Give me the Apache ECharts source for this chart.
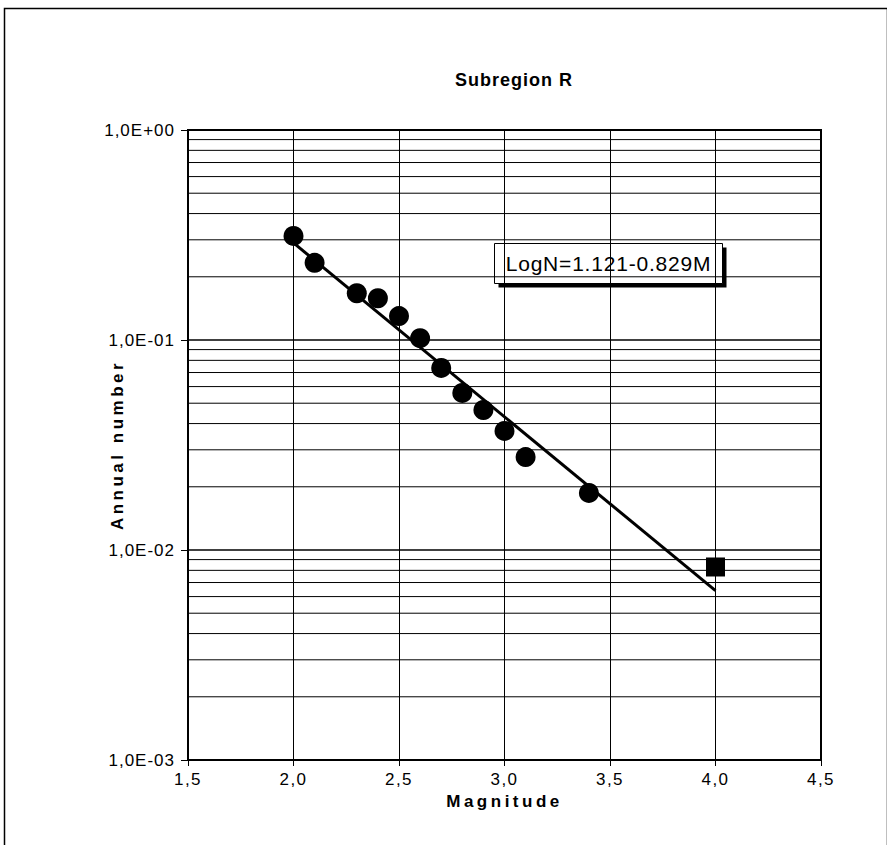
<!DOCTYPE html>
<html>
<head>
<meta charset="utf-8">
<script src="https://cdn.jsdelivr.net/npm/echarts@6/dist/echarts.min.js"></script>
<style>
  html, body { margin: 0; padding: 0; background: #fff; }
  #chart { width: 887px; height: 845px; }
</style>
</head>
<body>
<div id="chart"></div>
<script>
// observed points (magnitude, annual number)
var magnitudes = [2.0, 2.1, 2.3, 2.4, 2.5, 2.6, 2.7, 2.8, 2.9, 3.0, 3.1, 3.4]
var annualNumbers = [0.313, 0.233, 0.167, 0.158, 0.130, 0.102, 0.0736, 0.056, 0.0464, 0.0369, 0.0277, 0.0187]
// extrapolated point
var extraMag = [4.0]
var extraNum = [0.0083]
// fitted line ends
var fitMag = [2.0, 4.0]
var fitNum = [0.29, 0.0064]
// minor grid lines on the log axis
var minorLines = [
  0.002, 0.003, 0.004, 0.005, 0.006, 0.007, 0.008, 0.009,
  0.02, 0.03, 0.04, 0.05, 0.06, 0.07, 0.08, 0.09,
  0.2, 0.3, 0.4, 0.5, 0.6, 0.7, 0.8, 0.9
]
var xRange = [1.5, 4.5]
var fitLabel = 'LogN=1.121-0.829M'

var font = 'Liberation Sans, Arial, sans-serif'

function pair(xs, ys) {
  return xs.map(function (x, i) { return [x, ys[i]] })
}

function expLabel(v) {
  var e = Math.round(Math.log10(v))
  var m = v / Math.pow(10, e)
  var s = e < 0 ? '-' : '+'
  var a = Math.abs(e)
  return m.toFixed(1).replace('.', ',') + 'E' + s + (a < 10 ? '0' + a : a)
}

// thin horizontal lines for 2..9 of each decade
var minorSeries = minorLines.map(function (v) {
  return {
    type: 'line',
    data: [[xRange[0], v], [xRange[1], v]],
    symbol: 'none',
    silent: true,
    lineStyle: { color: '#000', width: 1 },
    z: 1
  }
})

var chart = echarts.init(document.getElementById('chart'), null, { renderer: 'svg' })
chart.setOption({
  animation: false,
  title: {
    text: 'Subregion R',
    left: 509,
    textAlign: 'center',
    top: 66,
    textStyle: {
      color: '#000',
      fontFamily: font,
      fontWeight: 'bold',
      fontSize: 18
    }
  },
  grid: {
    left: 188,
    top: 130,
    right: 66,
    bottom: 85,
    show: true,
    borderColor: '#000',
    borderWidth: 2,
    backgroundColor: '#fff'
  },
  xAxis: {
    type: 'value',
    min: xRange[0],
    max: xRange[1],
    interval: 0.5,
    name: 'Magnitude',
    nameLocation: 'middle',
    nameGap: 33,
    nameMoveOverlap: false,
    nameTextStyle: {
      color: '#000',
      fontFamily: font,
      fontWeight: 'bold',
      fontSize: 17
    },
    axisLine: { lineStyle: { color: '#000', width: 2 } },
    axisTick: { length: 6, lineStyle: { color: '#000' } },
    axisLabel: {
      color: '#000',
      fontFamily: font,
      fontSize: 17,
      margin: 11,
      formatter: function (v) { return v.toFixed(1).replace('.', ',') }
    },
    splitLine: { lineStyle: { color: '#000', width: 1 } }
  },
  yAxis: {
    type: 'log',
    logBase: 10,
    min: 0.001,
    max: 1,
    name: 'Annual number',
    nameLocation: 'middle',
    nameGap: 62,
    nameMoveOverlap: false,
    nameTextStyle: {
      color: '#000',
      fontFamily: font,
      fontWeight: 'bold',
      fontSize: 17
    },
    axisLine: { lineStyle: { color: '#000', width: 2 } },
    axisTick: { length: 7, lineStyle: { color: '#000' } },
    axisLabel: {
      color: '#000',
      fontFamily: font,
      fontSize: 17,
      margin: 13,
      formatter: expLabel
    },
    splitLine: { lineStyle: { color: '#000', width: 1.5 } }
  },
  graphic: [
    {
      type: 'rect',
      left: 2,
      top: 6,
      shape: { width: 883, height: 845 },
      style: { fill: 'none', stroke: '#000', lineWidth: 1.5 },
      silent: true
    },
    {
      type: 'group',
      left: 494,
      top: 243,
      z: 10,
      children: [
        {
          type: 'rect',
          shape: { x: 4, y: 4, width: 228, height: 40 },
          style: { fill: '#000' }
        },
        {
          type: 'rect',
          shape: { x: 0, y: 0, width: 228, height: 40 },
          style: { fill: '#fff', stroke: '#000', lineWidth: 1 }
        },
        {
          type: 'text',
          x: 114,
          y: 20,
          style: {
            text: fitLabel,
            fill: '#000',
            font: '21px ' + font,
            align: 'center',
            verticalAlign: 'middle'
          }
        }
      ]
    }
  ],
  series: minorSeries.concat([
    {
      name: 'fit',
      type: 'line',
      data: pair(fitMag, fitNum),
      symbol: 'none',
      lineStyle: { color: '#000', width: 3 },
      z: 3
    },
    {
      name: 'observed',
      type: 'scatter',
      data: pair(magnitudes, annualNumbers),
      symbol: 'circle',
      symbolSize: 20,
      itemStyle: { color: '#000', opacity: 1 },
      z: 4
    },
    {
      name: 'extrapolated',
      type: 'scatter',
      data: pair(extraMag, extraNum),
      symbol: 'rect',
      symbolSize: 19,
      itemStyle: { color: '#000', opacity: 1 },
      z: 4
    }
  ])
})

// the scanned original has wide letter tracking
function applySpacing() {
  var texts = document.querySelectorAll('#chart text')
  texts.forEach(function (t) {
    var s = t.textContent
    var ls = '1.5px'
    if (s === 'Subregion R') ls = '1px'
    else if (s === 'Magnitude' || s === 'Annual number') ls = '3.5px'
    else if (s === fitLabel) ls = '0.8px'
    else if (s.indexOf('E') >= 0) ls = '1px'
    t.style.letterSpacing = ls
  })
}
chart.on('finished', applySpacing)
applySpacing()
</script>
</body>
</html>
